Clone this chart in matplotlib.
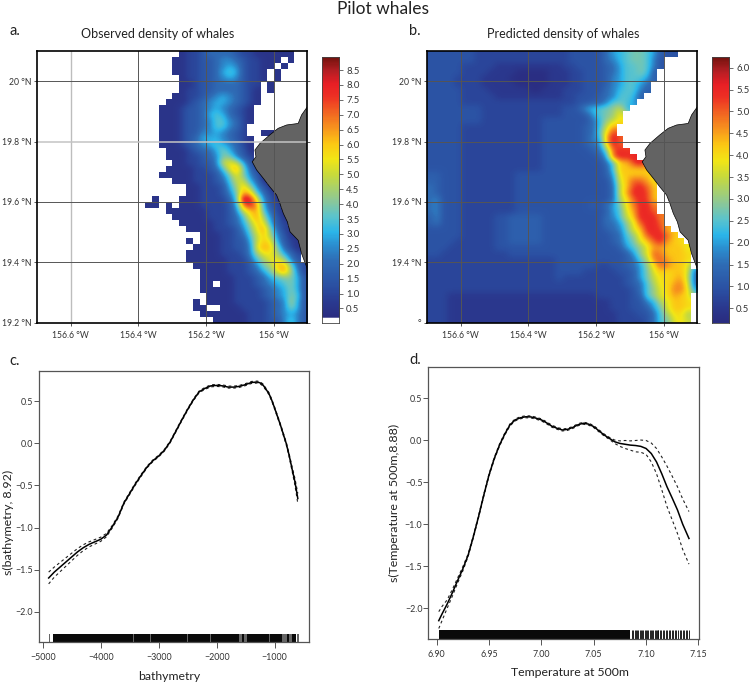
import numpy as np
import matplotlib
matplotlib.use('Agg')
import matplotlib.pyplot as plt
from matplotlib.colors import LinearSegmentedColormap, ListedColormap

plt.rcParams['font.family'] = ['Lato', 'DejaVu Sans']

# Density grids, read cell by cell: 0.02 deg cells, top row = 20.1N, left col = 156.7W.
# Each character is base-36; observed unit = 0.5, predicted unit = 0.25; '.' = no data.
observed_rows = [
 "..... ..... ..... ..... .1223 44443 22111 111..",
 "..... ..... ..... ..... 11223 34554 32211 1.1..",
 "..... ..... ..... ..... 11223 34565 32211 .1...",
 "..... ..... ..... ..... 11223 34676 3221. 1....",
 "..... ..... ..... ..... .1223 34565 3221. 1....",
 "..... ..... ..... ..... .1123 34444 322.1 .....",
 "..... ..... ..... ..... .1223 34444 321.1 .....",
 "..... ..... ..... ..... 11223 45654 321.. .....",
 "..... ..... ..... ....1 11234 56654 321.. .....",
 "..... ..... ..... ...11 12334 56543 21... .....",
 "..... ..... ..... ...11 12334 67643 21... .....",
 "..... ..... ..... ...11 12334 57754 21... .....",
 "..... ..... ..... ...11 12334 57754 2.... .....",
 "..... ..... ..... ...11 12335 56543 2..11 .....",
 "..... ..... ..... ...11 12346 66543 21... .....",
 "..... ..... ..... ...11 12345 67654 21... .....",
 "..... ..... ..... ....1 11234 46864 31... .....",
 "..... ..... ..... ....1 11223 45885 32... .....",
 "..... ..... ..... ..... 11223 35aba 631.. .....",
 "..... ..... ..... ....1 11122 347bd 8421. .....",
 "..... ..... ..... ...11 11122 2358b 8531. .....",
 "..... ..... ..... ..... 11122 2347a a641. .....",
 "..... ..... ..... ..... ..112 22369 c9531 .....",
 "..... ..... ..... ..... ..112 22358 dc742 1....",
 "..... ..... ..... ..1.. .1112 22247 igb53 1....",
 "..... ..... ..... .11.1 .1112 22236 egd63 2....",
 "..... ..... ..... ....1 11111 22235 acd74 21...",
 "..... ..... ..... ..... 11111 22234 7bd95 31...",
 "..... ..... ..... ..... .1111 12234 69cb6 32...",
 "..... ..... ..... ..... ..111 12223 58bd8 421..",
 "..... ..... ..... ..... ....1 11223 47ac9 5311.",
 "..... ..... ..... ..... ..1.1 11223 36acb 6321.",
 "..... ..... ..... ..... ...11 11223 35bdc 8421.",
 "..... ..... ..... ..... ..111 11222 359bb 9642.",
 "..... ..... ..... ..... ..111 11122 2479b b953.",
 "..... ..... ..... ..... ...11 11122 23589 cd842",
 "..... ..... ..... ..... ....1 11122 23468 bd952",
 "..... ..... ..... ..... ....1 11112 22346 78863",
 "..... ..... ..... ..... ....1 1.112 22345 67863",
 "..... ..... ..... ..... ....1 11112 22234 56863",
 "..... ..... ..... ..... ..... 11112 22234 56873",
 "..... ..... ..... ..... ...1. 11112 22223 45963",
 "..... ..... ..... ..... ...11 ..111 22223 45863",
 "..... ..... ..... ..... ....1 11111 12223 45653",
 "..... ..... ..... ..... ..... .1111 12223 35753",
]
predicted_rows = [
 "44444 44333 33333 33333 34444 4689a bba85 44...",
 "44444 44333 33333 33333 34444 4679a bba74 .....",
 "44444 33333 22222 22222 33444 4568a aba74 .....",
 "44444 33332 22211 11122 23344 4568a aba5. .....",
 "44443 33322 22111 11122 23344 4578a aa85. .....",
 "44443 33322 22211 11122 23344 4578a a86.. .....",
 "44444 33332 22222 11222 33344 4679a a75.. .....",
 "44444 33333 22222 22222 33444 567aa 95... .....",
 "44444 33333 33333 33333 33445 57aaa 8.... .....",
 "44444 44433 33333 33333 44589 abce9 ..... .....",
 "44444 44433 33333 33333 44458 abcg. ..... .....",
 "44444 44433 33333 33444 44446 9ceg. ..... .....",
 "44444 33333 33333 33444 44456 9ei.. ..... .....",
 "44444 33333 33333 33444 44456 agl.. ..... .....",
 "44444 33333 33333 33444 44457 8ink. ..... .....",
 "44444 33333 33333 33444 44456 7gmk. ..... .....",
 "44444 33333 33333 33444 44445 6bkml ..... .....",
 "44444 33333 33333 33444 44444 58kmm m.... .....",
 "44444 33333 33333 33444 44444 46ahh ln... .....",
 "44444 33333 33333 33444 44444 45ahh hhh.. .....",
 "55444 33333 33344 44444 44444 458gh hhhg. .....",
 "55444 33333 33344 44444 44444 447fh kkig. .....",
 "65444 33333 33344 44444 44444 446eh lmkh. .....",
 "65444 33333 33344 44444 44444 446ei mmlh. .....",
 "67444 33333 33344 44444 44444 446dg kmlh. .....",
 "67444 33333 33344 44444 44445 468bg jmmj. .....",
 "67444 33333 33344 44444 44444 458af immk. .....",
 "57444 33333 44555 55444 44444 467ae hmmmj .....",
 "56444 33333 44555 55444 44444 4668c fkmmk .....",
 "44444 33333 44555 55444 44444 4567b fhmml h....",
 "44444 33333 44555 55444 44444 4456a cgkmm kh...",
 "44443 33333 44555 55444 44444 44569 bfhkm ihg..",
 "44433 33333 44444 44444 44444 44458 acfii hhhf.",
 "44333 33333 33444 44444 44444 44445 8cfkj hhhg.",
 "33333 33333 33333 33334 44444 44445 6adjk ihhg.",
 "33333 33333 33333 33334 44444 33445 68cgk jhhf.",
 "33333 33333 33333 33334 44433 33344 58bfh ghhf6",
 "33333 33333 33333 33334 33333 33334 58beg ghie6",
 "33333 33333 33333 33333 33333 33334 56adg gijf6",
 "33333 33333 33333 33333 33333 33333 46acf gjjg8",
 "33322 22222 22222 22222 22222 33333 45acf gihg.",
 "33322 22222 22222 22222 22222 22333 4479d fhhg.",
 "33322 22222 22222 22222 22222 22333 4458b fhhg.",
 "33322 22222 22222 22222 22222 22233 3446a dggd.",
 "33322 22222 22222 22222 22222 22233 3346a bfge.",
]
observed_unit = 0.5
predicted_unit = 0.25

land_lon = [-155.9, -155.917, -155.927, -155.961, -155.986, -156.011, -156.040, -156.055,
            -156.052, -156.063, -156.050, -156.030, -156.011, -155.991, -155.981, -155.971,
            -155.959, -155.951, -155.927, -155.917, -155.902, -155.9]
land_lat = [19.915, 19.888, 19.860, 19.855, 19.844, 19.822, 19.794, 19.772,
            19.750, 19.733, 19.706, 19.678, 19.650, 19.623, 19.595, 19.562,
            19.534, 19.501, 19.473, 19.429, 19.385, 19.38]

lon_ticks = [-156.6, -156.4, -156.2, -156.0]
lon_labels = ['156.6 °W', '156.4 °W', '156.2 °W', '156 °W']
lat_ticks = [19.2, 19.4, 19.6, 19.8, 20.0]
lat_labels_a = ['19.2 °N', '19.4 °N', '19.6 °N', '19.8 °N', '20 °N']
lat_labels_b = ['°', '19.4 °N', '19.6 °N', '19.8 °N', '20 °N']
cbar_a_ticks = [0.5, 1, 1.5, 2, 2.5, 3, 3.5, 4, 4.5, 5, 5.5, 6, 6.5, 7, 7.5, 8, 8.5]
cbar_b_ticks = [0.5, 1, 1.5, 2, 2.5, 3, 3.5, 4, 4.5, 5, 5.5, 6]

bathy_x = [-4897, -4800, -4700, -4600, -4500, -4400, -4300, -4200, -4100, -4000, -3900, -3800, -3700,
           -3600, -3500, -3400, -3300, -3200, -3100, -3000, -2900, -2800, -2700, -2600, -2500, -2400,
           -2300, -2200, -2100, -2000, -1900, -1800, -1700, -1600, -1500, -1400, -1300, -1250, -1200,
           -1100, -1050, -1000, -950, -900, -850, -800, -750, -700, -650, -600]
bathy_y = [-1.60, -1.53, -1.47, -1.41, -1.35, -1.29, -1.24, -1.20, -1.17, -1.14, -1.09, -0.99, -0.875,
           -0.71, -0.595, -0.48, -0.377, -0.28, -0.206, -0.15, -0.08, 0.02, 0.15, 0.28, 0.405, 0.52,
           0.615, 0.655, 0.685, 0.69, 0.685, 0.67, 0.67, 0.68, 0.70, 0.725, 0.73, 0.72, 0.695,
           0.595, 0.515, 0.42, 0.32, 0.22, 0.11, 0.0, -0.14, -0.30, -0.455, -0.655]
bathy_se = [0.07, 0.06, 0.055, 0.05, 0.045, 0.04, 0.035, 0.03, 0.027, 0.025, 0.02, 0.015, 0.014,
            0.012, 0.012, 0.012, 0.012, 0.01, 0.01, 0.01, 0.01, 0.01, 0.01, 0.01, 0.01, 0.01,
            0.01, 0.012, 0.012, 0.012, 0.012, 0.012, 0.012, 0.012, 0.012, 0.012, 0.012, 0.012, 0.012,
            0.012, 0.012, 0.012, 0.012, 0.012, 0.014, 0.015, 0.018, 0.025, 0.04, 0.06]
bathy_rug_black = [(-4828, -3445), (-3430, -3155), (-3140, -2510), (-2500, -2107), (-2097, -1775),
                   (-1765, -1620), (-1560, -1525), (-1480, -1100), (-1085, -870), (-780, -745), (-700, -630)]
bathy_rug_gray = [(-4885, -4872), (-4828, -625), (-610, -585)]

temp_x = [6.902, 6.905, 6.91, 6.915, 6.92, 6.925, 6.93, 6.935, 6.94, 6.945, 6.95, 6.955, 6.96, 6.965,
          6.97, 6.975, 6.98, 6.985, 6.99, 6.995, 7.00, 7.005, 7.01, 7.015, 7.02, 7.025, 7.03, 7.035,
          7.04, 7.045, 7.05, 7.055, 7.06, 7.065, 7.07, 7.075, 7.08, 7.085, 7.09, 7.095, 7.10, 7.105,
          7.11, 7.115, 7.12, 7.125, 7.13, 7.135, 7.141]
temp_y = [-2.147, -2.07, -1.95, -1.815, -1.67, -1.53, -1.37, -1.15, -0.91, -0.655, -0.415, -0.22, -0.06, 0.07,
          0.18, 0.24, 0.265, 0.277, 0.275, 0.26, 0.24, 0.205, 0.165, 0.14, 0.12, 0.127, 0.15, 0.182,
          0.2, 0.19, 0.16, 0.11, 0.06, 0.02, -0.02, -0.04, -0.05, -0.06, -0.065, -0.075, -0.10, -0.16,
          -0.26, -0.40, -0.555, -0.69, -0.83, -1.0, -1.17]
temp_up = [0.107, 0.09, 0.05, 0.04, 0.03, 0.025, 0.015, 0.012, 0.012, 0.012, 0.012, 0.012, 0.012, 0.012,
           0.012, 0.012, 0.012, 0.012, 0.012, 0.012, 0.012, 0.012, 0.012, 0.012, 0.012, 0.012, 0.012, 0.012,
           0.012, 0.012, 0.012, 0.012, 0.012, 0.012, 0.02, 0.03, 0.045, 0.05, 0.06, 0.075, 0.095, 0.125,
           0.16, 0.20, 0.245, 0.26, 0.275, 0.30, 0.32]
temp_lo = [0.093, 0.08, 0.05, 0.04, 0.03, 0.025, 0.015, 0.012, 0.012, 0.012, 0.012, 0.012, 0.012, 0.012,
           0.012, 0.012, 0.012, 0.012, 0.012, 0.012, 0.012, 0.012, 0.012, 0.012, 0.012, 0.012, 0.012, 0.012,
           0.012, 0.012, 0.012, 0.012, 0.012, 0.012, 0.02, 0.035, 0.05, 0.06, 0.075, 0.07, 0.07, 0.10,
           0.14, 0.19, 0.235, 0.26, 0.28, 0.30, 0.305]
temp_rug_black = [(6.902, 7.085)]
temp_rug_gray = []
temp_rug_lines = [7.0865, 7.0878, 7.089, 7.0902, 7.0914, 7.0926, 7.0938, 7.095, 7.0962, 7.0974, 7.0986, 7.0998,
                  7.101, 7.1022, 7.1034, 7.1046, 7.1058, 7.107, 7.1082, 7.1094, 7.1106, 7.1112, 7.1118, 7.113,
                  7.1142, 7.1158, 7.1172, 7.1186, 7.12, 7.1215, 7.123, 7.1245, 7.126, 7.1275, 7.129, 7.1305,
                  7.132, 7.1335, 7.135, 7.1365, 7.138, 7.1395, 7.141]

W, H = 750, 684
def box(x0, y0, x1, y1):
    return [x0 / W, 1 - y1 / H, (x1 - x0) / W, (y1 - y0) / H]

cmap = LinearSegmentedColormap.from_list('whales', [
    (0.00, '#2a2c80'), (0.06, '#2a3a90'), (0.12, '#2b4fa2'), (0.22, '#2f6db6'), (0.28, '#2b8fd0'),
    (0.33, '#2bb6ea'), (0.39, '#5cc4cc'), (0.45, '#8cc898'), (0.55, '#c8da3c'), (0.61, '#f2e616'),
    (0.67, '#fcc814'), (0.73, '#f7941e'), (0.79, '#f26522'), (0.85, '#ee3124'), (0.90, '#e81f26'),
    (0.95, '#b41e24'), (1.00, '#76130f')])
cmap.set_under('white')
white_mask = ListedColormap(['#00000000', '#ffffffff'])

def grid(rows, unit):
    out = []
    for r in rows:
        s = r.replace(' ', '')
        out.append([np.nan if c == '.' else int(c, 36) * unit for c in s])
    return np.array(out, dtype=float)

def fill_gaps(a):
    """Spread the valid cells into the blank ones so the smooth layer has no edge halo;
    the blank cells are painted white on top afterwards."""
    f = a.copy()
    while np.isnan(f).any():
        p = np.pad(f, 1, constant_values=np.nan)
        st = np.stack([p[:-2, 1:-1], p[2:, 1:-1], p[1:-1, :-2], p[1:-1, 2:]])
        cnt = (~np.isnan(st)).sum(axis=0)
        tot = np.nansum(st, axis=0)
        m = np.isnan(f) & (cnt > 0)
        f[m] = tot[m] / cnt[m]
    return f

fig = plt.figure(figsize=(7.5, 6.84), dpi=100)
TICK = '#333333'
EXT = [-156.7, -155.9, 19.2, 20.1]

def map_panel(pos, cpos, rows, unit, vmin, vmax, cticks, title, tx, latlabels, light):
    ax = fig.add_axes(box(*pos))
    g = grid(rows, unit)
    ax.imshow(fill_gaps(g), extent=EXT, origin='upper', aspect='auto', cmap=cmap, vmin=vmin, vmax=vmax,
              interpolation='bicubic', zorder=1)
    ax.imshow(np.isnan(g).astype(float), extent=EXT, origin='upper', aspect='auto', cmap=white_mask,
              vmin=0, vmax=1, interpolation='nearest', zorder=1.5)
    ax.fill(land_lon + [-155.9], land_lat + [19.915], color='#636363', ec='black', lw=0.5, zorder=2)
    for v in lon_ticks:
        c = '#bdbdbd' if (light and v == -156.6) else '#555555'
        ax.axvline(v, color=c, lw=1.0 if c != '#555555' else 0.7, zorder=3)
    for v in lat_ticks[1:]:
        c = '#c4c4c4' if (light and v == 19.8) else '#555555'
        ax.axhline(v, color=c, lw=1.1 if c != '#555555' else 0.7, zorder=3)
    ax.set_xlim(-156.7, -155.9); ax.set_ylim(19.2, 20.1)
    ax.set_xticks(lon_ticks, lon_labels)
    ax.set_yticks(lat_ticks, latlabels)
    ax.tick_params(axis='x', length=2, width=0.7, color='#555555', labelsize=6.2, labelcolor=TICK, pad=4)
    ax.tick_params(axis='y', length=2, width=0.7, color='#555555', labelsize=6.2, labelcolor=TICK, pad=2,
                   right=True)
    for s in ax.spines.values():
        s.set_linewidth(1.2); s.set_zorder(5)
    fig.text(tx / W, 1 - 34 / H, title, fontsize=9, ha='center', va='center', color='#222222')

    cax = fig.add_axes(box(*cpos))
    lo = vmin - 0.15 if unit == observed_unit else vmin
    vals = np.linspace(vmax, lo, 300).reshape(-1, 1)
    cax.imshow(vals, extent=[0, 1, lo, vmax], origin='upper', aspect='auto', cmap=cmap, vmin=vmin, vmax=vmax)
    cax.set_xticks([])
    cax.yaxis.tick_right()
    cax.set_yticks(cticks, [f'{v:.1f}' for v in cticks])
    cax.tick_params(length=3, width=0.6, color='#555555', labelsize=6.8, labelcolor=TICK, pad=2)
    for s in cax.spines.values():
        s.set_linewidth(0.6); s.set_color('#444444')

map_panel((37, 51, 307.3, 322.7), (322, 56.7, 339.3, 322.7), observed_rows, observed_unit,
          0.17, 8.95, cbar_a_ticks, 'Observed density of whales', 158, lat_labels_a, True)
map_panel((427, 51, 697.3, 322.7), (711.7, 56.7, 729.3, 322.7), predicted_rows, predicted_unit,
          0.17, 6.25, cbar_b_ticks, 'Predicted density of whales', 563, lat_labels_b, False)

def smooth_panel(pos, xlim, xt, xtl, x, y, up, lo, black, gray, lines, xlabel, ylabel, xlab_xy, ylab_xy):
    ax = fig.add_axes(box(*pos))
    ax.plot(x, y, color='black', lw=1.1, zorder=3)
    ax.plot(x, up, color='#222222', lw=0.8, ls=(0, (2.5, 2.5)), zorder=2)
    ax.plot(x, lo, color='#222222', lw=0.8, ls=(0, (2.5, 2.5)), zorder=2)
    ax.broken_barh([(a, b - a) for a, b in gray], (-2.365, 0.103), color='#666666', lw=0)
    ax.broken_barh([(a, b - a) for a, b in black], (-2.365, 0.103), color='#0a0a0a', lw=0)
    ax.vlines(lines, -2.365, -2.262, color='#111111', lw=0.65)
    ax.set_xlim(*xlim); ax.set_ylim(-2.365, 0.865)
    ax.set_xticks(xt, xtl)
    ax.set_yticks([-2, -1.5, -1, -0.5, 0, 0.5], ['−2.0', '−1.5', '−1.0', '−0.5', '0.0', '0.5'])
    ax.tick_params(axis='x', length=4, width=0.7, color='#555555', labelsize=6.4, labelcolor=TICK, pad=4)
    ax.tick_params(axis='y', length=3.3, width=0.7, color='#555555', labelsize=6.4, labelcolor=TICK, pad=1)
    for s in ax.spines.values():
        s.set_linewidth(0.9); s.set_color('#555555')
    fig.text(xlab_xy[0] / W, 1 - xlab_xy[1] / H, xlabel, fontsize=8.8, ha='center', va='center', color='#222222')
    fig.text(ylab_xy[0] / W, 1 - ylab_xy[1] / H, ylabel, fontsize=8.9, ha='center', va='center',
             rotation=90, color='#222222')

bx = np.array(bathy_x, float); by = np.array(bathy_y); bs = np.array(bathy_se)
smooth_panel((38.7, 370.7, 309.3, 642.3), (-5069, -402), [-5000, -4000, -3000, -2000, -1000],
             ['−5000', '−4000', '−3000', '−2000', '−1000'], bx, by, by + bs, by - bs,
             bathy_rug_black, bathy_rug_gray, [], 'bathymetry', 's(bathymetry, 8.92)', (169, 677), (8, 522))
ty = np.array(temp_y)
smooth_panel((428.3, 367.3, 698.7, 639), (6.892, 7.1503), [6.90, 6.95, 7.00, 7.05, 7.10, 7.15],
             ['6.90', '6.95', '7.00', '7.05', '7.10', '7.15'], temp_x, ty, ty + np.array(temp_up), ty - np.array(temp_lo),
             temp_rug_black, temp_rug_gray, temp_rug_lines, 'Temperature at 500m', 's(Temperature at 500m,8.88)', (570, 673), (394, 503))

fig.text(383 / W, 1 - 9 / H, 'Pilot whales', fontsize=12.5, ha='center', va='center', color='#222222')
for lab, x, y in [('a.', 15, 31), ('b.', 415, 31), ('c.', 15, 361), ('d.', 415, 360)]:
    fig.text(x / W, 1 - y / H, lab, fontsize=10.5, ha='center', va='center', color='#222222')

fig.savefig('out.png', dpi=100)
